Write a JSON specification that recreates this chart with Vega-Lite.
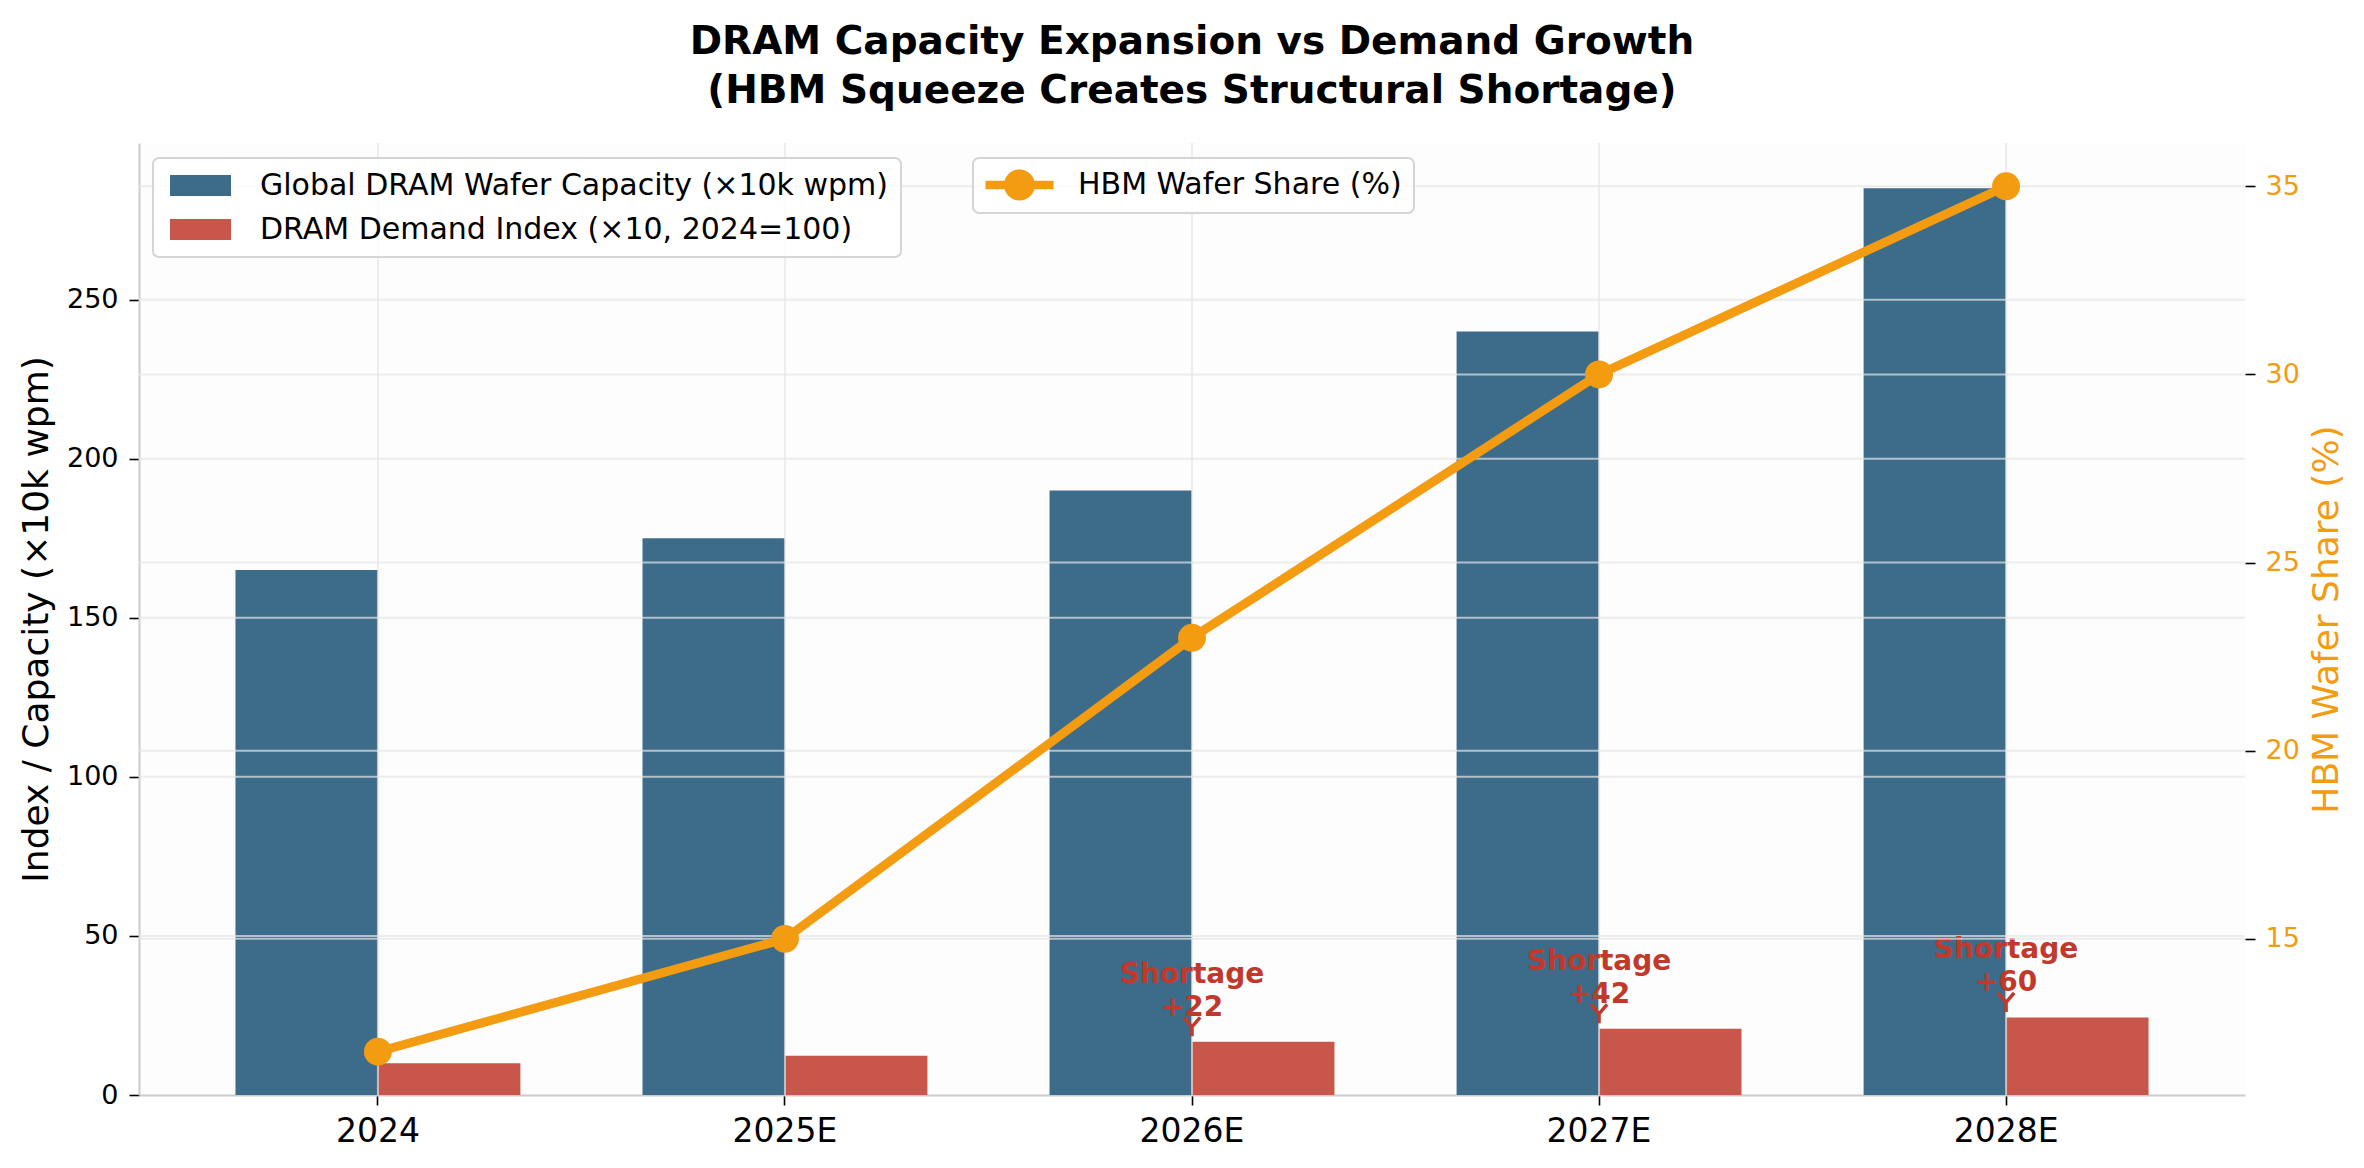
{
  "$schema": "https://vega.github.io/schema/vega-lite/v6.json",
  "width": 2106,
  "height": 952,
  "autosize": {"type": "none"},
  "padding": {"left": 139, "top": 143, "right": 119, "bottom": 73},
  "background": "white",
  "config": {
    "font": "DejaVu Sans",
    "view": {"stroke": null, "fill": "#fdfdfd"},
    "axis": {
      "zindex": 1,
      "grid": false,
      "tickColor": "#000000",
      "tickWidth": 1.6,
      "tickSize": 10,
      "labelColor": "#000000",
      "labelFont": "DejaVu Sans",
      "titleFont": "DejaVu Sans",
      "titleFontWeight": "normal",
      "titleColor": "#000000",
      "domainColor": "#cccccc",
      "domainWidth": 2
    },
    "rule": {"color": "#e6e6e6", "opacity": 0.7, "strokeWidth": 2},
    "legend": {"labelFont": "DejaVu Sans", "labelColor": "#000000", "labelLimit": 0}
  },
  "title": {
    "text": ["DRAM Capacity Expansion vs Demand Growth", "(HBM Squeeze Creates Structural Shortage)"],
    "fontSize": 39,
    "fontWeight": "bold",
    "lineHeight": 49,
    "anchor": "middle",
    "offset": 31,
    "color": "#000000",
    "font": "DejaVu Sans"
  },
  "data": {
    "values": [
      {"year": "2024", "capacity": 165, "demand": 10, "share": 12},
      {"year": "2025E", "capacity": 175, "demand": 12.3, "share": 15},
      {"year": "2026E", "capacity": 190, "demand": 16.7, "share": 23, "note": "Shortage\n+22"},
      {"year": "2027E", "capacity": 240, "demand": 20.8, "share": 30, "note": "Shortage\n+42"},
      {"year": "2028E", "capacity": 285, "demand": 24.4, "share": 35, "note": "Shortage\n+60"}
    ]
  },
  "layer": [
    {
      "layer": [
        {
          "transform": [{"fold": ["capacity", "demand"], "as": ["series", "value"]}],
          "mark": {"type": "bar"},
          "encoding": {
            "x": {
              "field": "year",
              "type": "nominal",
              "scale": {"domain": ["2024", "2025E", "2026E", "2027E", "2028E"], "paddingInner": 0.3, "paddingOuter": 0.237},
              "axis": {"title": null, "labelFontSize": 33, "labelPadding": 10, "labelAngle": 0}
            },
            "xOffset": {
              "field": "series",
              "type": "nominal",
              "scale": {"domain": ["capacity", "demand"], "paddingInner": 0, "paddingOuter": 0}
            },
            "y": {
              "field": "value",
              "type": "quantitative",
              "title": "Index / Capacity (×10k wpm)",
              "scale": {"domain": [0, 299.25], "nice": false},
              "axis": {
                "orient": "left",
                "values": [0, 50, 100, 150, 200, 250],
                "labelFontSize": 27,
                "labelPadding": 11,
                "titleFontSize": 36,
                "titlePadding": 11
              }
            },
            "color": {
              "field": "series",
              "type": "nominal",
              "scale": {"domain": ["capacity", "demand"], "range": ["#3d6b8a", "#c9564b"]},
              "legend": {
                "title": null,
                "orient": "none",
                "legendX": 14,
                "legendY": 15,
                "direction": "vertical",
                "symbolType": "M-1,-1H4.81V1H-1Z",
                "symbolSize": 441,
                "symbolStrokeWidth": 0,
                "labelFontSize": 30,
                "labelOffset": 64.5,
                "rowPadding": 14,
                "padding": 12.5,
                "fillColor": "rgba(255,255,255,0.8)",
                "strokeColor": "#d5d5d5",
                "cornerRadius": 6,
                "zindex": 2,
                "labelExpr": "datum.label == 'capacity' ? 'Global DRAM Wafer Capacity (×10k wpm)' : 'DRAM Demand Index (×10, 2024=100)'",
                "encode": {"legend": {"update": {"strokeWidth": {"value": 2}}}}
              }
            }
          }
        },
        {
          "data": {"values": [{"tick": 50}, {"tick": 100}, {"tick": 150}, {"tick": 200}, {"tick": 250}]},
          "mark": {"type": "rule"},
          "encoding": {
            "y": {"field": "tick", "type": "quantitative", "title": "Index / Capacity (×10k wpm)"}
          }
        },
        {
          "mark": {"type": "rule"},
          "encoding": {
            "x": {"field": "year", "type": "nominal"}
          }
        },
        {
          "transform": [{"filter": "isValid(datum.note)"}],
          "mark": {
            "type": "text",
            "lineBreak": "\n",
            "fontSize": 28,
            "fontWeight": "bold",
            "color": "#c0392b",
            "align": "center",
            "baseline": "alphabetic",
            "dy": -59,
            "lineHeight": 33
          },
          "encoding": {
            "x": {"field": "year", "type": "nominal"},
            "y": {"field": "demand", "type": "quantitative", "title": "Index / Capacity (×10k wpm)"},
            "text": {"field": "note"}
          }
        },
        {
          "transform": [{"filter": "isValid(datum.note)"}],
          "mark": {
            "type": "point",
            "shape": "M-0.85,-1L0,0L0.85,-1M0,0L0,1",
            "size": 361,
            "filled": false,
            "color": "#c0392b",
            "strokeWidth": 3.5,
            "opacity": 1,
            "yOffset": -15
          },
          "encoding": {
            "x": {"field": "year", "type": "nominal"},
            "y": {"field": "demand", "type": "quantitative", "title": "Index / Capacity (×10k wpm)"}
          }
        }
      ]
    },
    {
      "layer": [
        {
          "data": {"values": [{"tick": 15}, {"tick": 20}, {"tick": 25}, {"tick": 30}, {"tick": 35}]},
          "mark": {"type": "rule"},
          "encoding": {
            "y": {"field": "tick", "type": "quantitative", "title": "HBM Wafer Share (%)"}
          }
        },
        {
          "mark": {"type": "line", "strokeWidth": 9},
          "encoding": {
            "x": {"field": "year", "type": "nominal"},
            "y": {
              "field": "share",
              "type": "quantitative",
              "title": "HBM Wafer Share (%)",
              "scale": {"domain": [10.85, 36.15], "nice": false, "zero": false},
              "axis": {
                "orient": "right",
                "values": [15, 20, 25, 30, 35],
                "labelFontSize": 27,
                "labelPadding": 10,
                "labelColor": "#f39c12",
                "titleColor": "#f39c12",
                "titleFontSize": 36,
                "titleAngle": 270,
                "titleBaseline": "top",
                "titlePadding": 10,
                "domain": false
              }
            },
            "stroke": {
              "datum": "HBM Wafer Share (%)",
              "scale": {"range": ["#f39c12"]},
              "legend": {
                "title": null,
                "orient": "none",
                "legendX": 834,
                "legendY": 15,
                "symbolType": "M-1.38,-0.4H5.1V0.4H-1.38Z M3.333,0A1.476,1.476 0 1,1 0.381,0A1.476,1.476 0 1,1 3.333,0Z",
                "symbolSize": 441,
                "labelFontSize": 30,
                "labelOffset": 63,
                "padding": 12,
                "fillColor": "rgba(255,255,255,0.8)",
                "strokeColor": "#d5d5d5",
                "cornerRadius": 6,
                "zindex": 2,
                "encode": {
                  "symbols": {"update": {"fill": {"value": "#f39c12"}, "strokeWidth": {"value": 0}, "opacity": {"value": 1}}},
                  "legend": {"update": {"strokeWidth": {"value": 2}}}
                }
              }
            }
          }
        },
        {
          "mark": {"type": "point", "filled": true, "size": 780, "opacity": 1, "color": "#f39c12"},
          "encoding": {
            "x": {"field": "year", "type": "nominal"},
            "y": {"field": "share", "type": "quantitative", "title": "HBM Wafer Share (%)"}
          }
        }
      ]
    }
  ],
  "resolve": {"scale": {"y": "independent"}}
}
